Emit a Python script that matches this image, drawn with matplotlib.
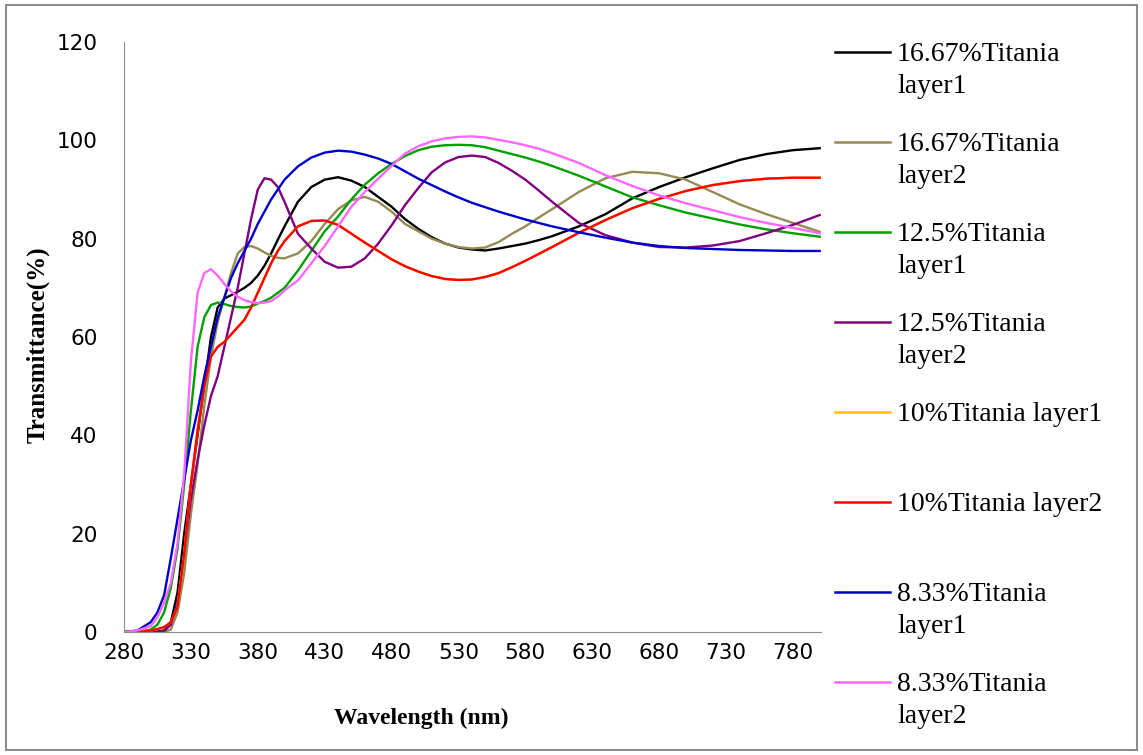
import matplotlib.pyplot as plt
from matplotlib.lines import Line2D
from matplotlib.patches import Rectangle

# wavelength grid (nm) shared by all spectra
wavelength = [280, 290, 300,
              305, 310, 315, 320, 325, 330, 335, 340, 345, 350,
              355, 360, 365, 370, 375, 380, 385, 390, 395, 400,
              410, 420, 430, 440, 450, 460, 470, 480, 490, 500,
              510, 520, 530, 540, 550, 560, 570, 580, 590, 600,
              620, 640, 660, 680, 700, 720, 740, 760, 780, 800]

t1667_l1 = [0, 0, 0,
            0.1, 0.3, 2, 8, 20, 30, 40, 50, 60, 66,
            67.8, 68.5, 69.2, 70, 71, 72.5, 74.5, 77, 79.8, 82.5,
            87.5, 90.5, 92, 92.5, 91.8, 90.5, 88.5, 86.5, 84, 82,
            80.3, 79, 78.2, 77.8, 77.6, 78, 78.5, 79, 79.7, 80.5,
            82.5, 85, 88.2, 90.5, 92.5, 94.3, 96, 97.2, 98, 98.4]

t1667_l2 = [0, 0, 0,
            0, 0, 0.5, 4, 12, 24, 34, 46, 56, 63,
            68, 73, 77, 78.3, 78.5, 78, 77.2, 76.5, 76.1, 76,
            77, 79.5, 83, 86, 87.8, 88.5, 87.5, 85.5, 83, 81.5,
            80, 79, 78.3, 78, 78.2, 79.3, 81, 82.5, 84.3, 86,
            89.5, 92.3, 93.6, 93.3, 92, 89.5, 87, 85, 83.2, 81.4]

t125_l1 = [0, 0, 0.5,
           1.5, 4, 9, 17, 30, 45, 58, 64, 66.5, 67,
           66.7, 66.3, 66.1, 66, 66.2, 66.8, 67.3, 68, 69, 70,
           73.5, 77.5, 81.5, 84.5, 88, 91, 93.3, 95.2, 96.8, 98,
           98.7, 99, 99.1, 99, 98.6, 97.9, 97.2, 96.5, 95.7, 94.8,
           92.8, 90.6, 88.4, 86.8, 85.3, 84.1, 82.9, 81.9, 81.1, 80.4]

t125_l2 = [0, 0, 0,
           0, 0.2, 1.5, 6, 16, 27, 35, 42, 48, 52,
           58, 64, 70, 77, 84, 90, 92.3, 92, 90.5, 87.5,
           81, 78, 75.3, 74.1, 74.3, 76, 79, 82.7, 86.8, 90.3,
           93.5, 95.5, 96.6, 96.9, 96.6, 95.4, 93.8, 92, 89.8, 87.5,
           83.2, 80.7, 79.2, 78.3, 78.2, 78.6, 79.5, 81.1, 82.8, 84.8]

t10_l2 = [0, 0, 0.3,
          0.6, 1, 2, 5, 16, 30, 41, 50, 56, 58,
          59, 60.5, 62, 63.5, 66, 69, 72, 75, 77.5, 79.5,
          82.5, 83.6, 83.7, 82.8, 81, 79.2, 77.5, 75.8, 74.4, 73.3,
          72.4, 71.8, 71.6, 71.7, 72.2, 73, 74.2, 75.5, 76.9, 78.3,
          81.2, 83.8, 86.2, 88.1, 89.7, 90.9, 91.7, 92.2, 92.4, 92.4]

# layer1 of the 10% film lies under layer2 everywhere
t10_l1 = list(t10_l2)

t833_l1 = [0, 0.3, 2,
           4, 7.5, 15, 23, 31, 39, 45, 52, 58, 64,
           68, 72, 75, 77.5, 80, 83, 85.5, 88, 90, 92,
           94.7, 96.5, 97.5, 97.9, 97.7, 97.1, 96.3, 95.2, 93.7, 92.2,
           90.9, 89.6, 88.4, 87.3, 86.4, 85.5, 84.7, 83.9, 83.2, 82.5,
           81.3, 80.2, 79.2, 78.5, 78.1, 77.9, 77.7, 77.6, 77.5, 77.5]

t833_l2 = [0, 0.3, 1.2,
           3, 6, 10, 18, 32, 55, 69, 73, 73.8, 72.5,
           70.8, 69.3, 68.2, 67.5, 67.1, 66.9, 67, 67.3, 68.2, 69.5,
           71.5, 75, 78.5, 82.5, 86.5, 89.5, 92.2, 94.8, 97.3, 98.8,
           99.8, 100.4, 100.7, 100.8, 100.6, 100.1, 99.6, 99, 98.3, 97.4,
           95.4, 92.9, 90.7, 88.8, 87.2, 85.8, 84.4, 83.2, 82.2, 81.1]

series = [
    ("16.67%Titania\nlayer1", t1667_l1, "#000000"),
    ("16.67%Titania\nlayer2", t1667_l2, "#948A54"),
    ("12.5%Titania\nlayer1", t125_l1, "#00A000"),
    ("12.5%Titania\nlayer2", t125_l2, "#800080"),
    ("10%Titania layer1", t10_l1, "#FFC000"),
    ("10%Titania layer2", t10_l2, "#FF0000"),
    ("8.33%Titania\nlayer1", t833_l1, "#0000CC"),
    ("8.33%Titania\nlayer2", t833_l2, "#FF66FF"),
]

W, H = 1143, 755
fig = plt.figure(figsize=(W / 100, H / 100), dpi=100)
ax = fig.add_axes([124 / W, 1 - 632 / H, (821 - 124) / W, (632 - 42) / H])

for label, vals, col in series:
    ax.plot(wavelength, vals, color=col, lw=1.7)

ax.set_xlim(280, 801)
ax.set_ylim(0, 120)
ax.set_xticks(range(280, 781, 50))
ax.set_xticks(range(380, 781, 100), minor=True)
ax.set_yticks(range(0, 121, 20))
ax.tick_params(axis='both', which='major', length=0, labelsize=15.5)
ax.tick_params(axis='x', which='major', pad=8)
ax.tick_params(axis='y', which='major', pad=19)
ax.tick_params(axis='x', which='minor', direction='in', length=6, color='#8c8c8c')
for s in ('top', 'right'):
    ax.spines[s].set_visible(False)
for s in ('left', 'bottom'):
    ax.spines[s].set_color('#8c8c8c')

serif = ['Liberation Serif', 'DejaVu Serif']
fig.text(421 / W, 1 - 718 / H, "Wavelength (nm)", family=serif, weight='bold',
         fontsize=17, ha='center', va='center')
fig.text(38 / W, 1 - 345 / H, "Transmittance(%)", family=serif, weight='bold',
         fontsize=18, ha='center', va='center', rotation=90)

# legend on the right, one handle every 90 px, text lines 32 px apart
for i, (label, vals, col) in enumerate(series):
    yh = 52 + 90 * i
    fig.add_artist(Line2D([835 / W, 890 / W], [1 - yh / H, 1 - yh / H],
                          transform=fig.transFigure, color=col, lw=1.8))
    for k, part in enumerate(label.split("\n")):
        fig.text(897 / W, 1 - (yh + 9 + 32 * k) / H, part, family=serif,
                 fontsize=20, ha='left', va='baseline')

fig.add_artist(Rectangle((0.005, 0.006), 0.99, 0.988, transform=fig.transFigure,
                         fill=False, edgecolor='#8c8c8c', lw=1.5))

fig.savefig('out.png', dpi=100)
